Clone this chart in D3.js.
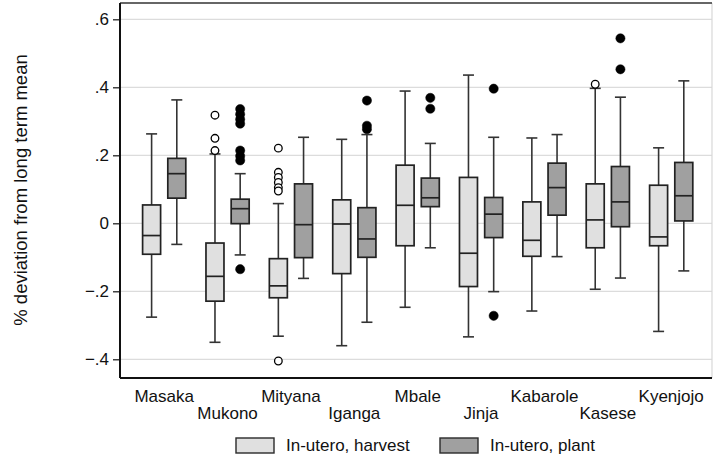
<!DOCTYPE html>
<html>
<head>
<meta charset="utf-8">
<script src="https://cdn.jsdelivr.net/npm/d3@7"></script>
<style>
  body { margin: 0; background: #fff; }
  text { font-family: "Liberation Sans", Arial, sans-serif; fill: #111; }
</style>
</head>
<body>
<svg id="chart"></svg>
<script>
var width = 714,
    height = 461;

// districts, in plot order
var districts = ["Masaka", "Mukono", "Mityana", "Iganga", "Mbale", "Jinja", "Kabarole", "Kasese", "Kyenjojo"];

// [lower whisker, q1, median, q3, upper whisker]
var harvestStats = [
  [-0.276, -0.091, -0.036, 0.054, 0.263],
  [-0.350, -0.229, -0.156, -0.058, 0.204],
  [-0.332, -0.219, -0.184, -0.104, 0.058],
  [-0.360, -0.148, -0.002, 0.069, 0.247],
  [-0.247, -0.066, 0.053, 0.171, 0.389],
  [-0.334, -0.186, -0.088, 0.135, 0.436],
  [-0.258, -0.097, -0.050, 0.063, 0.251],
  [-0.194, -0.072, 0.010, 0.116, 0.397],
  [-0.318, -0.066, -0.040, 0.112, 0.222]
];
var plantStats = [
  [-0.062, 0.074, 0.146, 0.191, 0.363],
  [-0.093, -0.001, 0.043, 0.071, 0.146],
  [-0.162, -0.101, -0.004, 0.116, 0.253],
  [-0.291, -0.100, -0.046, 0.046, 0.261],
  [-0.072, 0.049, 0.075, 0.133, 0.235],
  [-0.201, -0.042, 0.027, 0.076, 0.253],
  [-0.098, 0.024, 0.105, 0.177, 0.261],
  [-0.161, -0.010, 0.063, 0.167, 0.371],
  [-0.140, 0.007, 0.081, 0.179, 0.419]
];

// outside values
var harvestOutliers = [
  [],
  [0.318, 0.250, 0.214],
  [0.221, 0.150, 0.135, 0.120, 0.105, 0.095, -0.405],
  [],
  [],
  [],
  [],
  [0.409],
  []
];
var plantOutliers = [
  [],
  [0.336, 0.321, 0.306, 0.293, 0.214, 0.198, 0.185, -0.135],
  [],
  [0.361, 0.287, 0.277],
  [0.369, 0.337],
  [0.396, -0.272],
  [],
  [0.544, 0.453],
  []
];

var yTicks = [-0.4, -0.2, 0, 0.2, 0.4, 0.6];
var seriesNames = ["In-utero, harvest", "In-utero, plant"];

var margin = {left: 120, right: 2, top: 3, bottom: 83};
var plotLeft = margin.left, plotRight = width - margin.right,
    plotTop = margin.top, plotBottom = height - margin.bottom;

var svg = d3.select('#chart')
  .attr('width', width)
  .attr('height', height);

var y = d3.scaleLinear()
  .domain([-0.455, 0.648])
  .range([plotBottom, plotTop]);

var x = d3.scalePoint()
  .domain(districts)
  .range([164.2, 671.2]);

var offset = 12.6, boxW = 18, capW = 11;

// gridlines
svg.append('g')
  .selectAll('line')
  .data(yTicks)
  .join('line')
  .attr('x1', plotLeft).attr('x2', plotRight)
  .attr('y1', d => y(d)).attr('y2', d => y(d))
  .style('stroke', '#dcdcdc')
  .style('stroke-width', 1.2);

// frame
svg.append('line').attr('x1', plotRight).attr('x2', plotRight).attr('y1', plotTop).attr('y2', plotBottom)
  .style('stroke', '#d8d8d8').style('stroke-width', 1.2);
svg.append('line').attr('x1', plotLeft).attr('x2', plotRight).attr('y1', plotTop).attr('y2', plotTop)
  .style('stroke', '#333').style('stroke-width', 1.5);
svg.append('line').attr('x1', plotLeft).attr('x2', plotRight).attr('y1', plotBottom).attr('y2', plotBottom)
  .style('stroke', '#111').style('stroke-width', 2);

// y axis
var fmt = function(d) {
  if (d === 0) return '0';
  return d3.format('.1f')(d).replace('0.', '.');
};
var yAxis = svg.append('g')
  .attr('transform', 'translate(' + plotLeft + ',0)')
  .call(d3.axisLeft(y).tickValues(yTicks).tickFormat(fmt).tickSize(7).tickPadding(4).tickSizeOuter(0));
yAxis.select('.domain')
  .attr('d', 'M0,' + plotTop + 'V' + plotBottom)
  .style('stroke', '#111').style('stroke-width', 2);
yAxis.selectAll('.tick line').style('stroke', '#111').style('stroke-width', 1.2);
yAxis.selectAll('.tick text')
  .style('font-size', '17px')
  .style('font-family', '"Liberation Sans", Arial, sans-serif')
  .attr('fill', '#111');

svg.append('text')
  .attr('transform', 'translate(26.5,190) rotate(-90)')
  .attr('text-anchor', 'middle')
  .style('font-size', '18.5px')
  .text('% deviation from long term mean');

// boxes
var series = [
  {stats: harvestStats, outliers: harvestOutliers, dx: -offset, fill: '#e0e0e0', hollow: true},
  {stats: plantStats, outliers: plantOutliers, dx: offset, fill: '#a0a0a0', hollow: false}
];

series.forEach(function(s) {
  var g = svg.append('g');
  var items = districts.map(function(d, i) {
    return {cx: x(d) + s.dx, st: s.stats[i], out: s.outliers[i]};
  });

  // whiskers
  g.selectAll('line.whisk')
    .data(items)
    .join('line')
    .attr('class', 'whisk')
    .attr('x1', d => d.cx).attr('x2', d => d.cx)
    .attr('y1', d => y(d.st[0])).attr('y2', d => y(d.st[4]))
    .style('stroke', '#333').style('stroke-width', 1.6);

  ['lo', 'hi'].forEach(function(k) {
    g.selectAll('line.cap-' + k)
      .data(items)
      .join('line')
      .attr('class', 'cap-' + k)
      .attr('x1', d => d.cx - capW / 2).attr('x2', d => d.cx + capW / 2)
      .attr('y1', d => y(k === 'lo' ? d.st[0] : d.st[4]))
      .attr('y2', d => y(k === 'lo' ? d.st[0] : d.st[4]))
      .style('stroke', '#333').style('stroke-width', 1.6);
  });

  g.selectAll('rect')
    .data(items)
    .join('rect')
    .attr('x', d => d.cx - boxW / 2)
    .attr('width', boxW)
    .attr('y', d => y(d.st[3]))
    .attr('height', d => y(d.st[1]) - y(d.st[3]))
    .style('fill', s.fill)
    .style('stroke', '#222').style('stroke-width', 1.7);

  g.selectAll('line.med')
    .data(items)
    .join('line')
    .attr('class', 'med')
    .attr('x1', d => d.cx - boxW / 2).attr('x2', d => d.cx + boxW / 2)
    .attr('y1', d => y(d.st[2])).attr('y2', d => y(d.st[2]))
    .style('stroke', '#222').style('stroke-width', 1.7);

  var pts = [];
  items.forEach(function(d) {
    d.out.forEach(function(v) { pts.push({cx: d.cx, v: v}); });
  });
  g.selectAll('circle')
    .data(pts)
    .join('circle')
    .attr('cx', d => d.cx)
    .attr('cy', d => y(d.v))
    .attr('r', s.hollow ? 3.8 : 4.6)
    .style('fill', s.hollow ? '#fff' : '#000')
    .style('stroke', '#000')
    .style('stroke-width', s.hollow ? 1.3 : 0.5);
});

// category labels, staggered
svg.append('g')
  .selectAll('text')
  .data(districts)
  .join('text')
  .attr('x', d => x(d))
  .attr('y', (d, i) => i % 2 === 0 ? 402 : 418.7)
  .attr('text-anchor', 'middle')
  .style('font-size', '17px')
  .text(d => d);

// legend
var legendX = [236, 440];
var legendFill = ['#e0e0e0', '#a0a0a0'];
var legend = svg.append('g')
  .selectAll('g')
  .data(seriesNames)
  .join('g')
  .attr('transform', (d, i) => 'translate(' + legendX[i] + ',438)');
legend.append('rect')
  .attr('width', 38).attr('height', 15)
  .style('fill', (d, i) => legendFill[i])
  .style('stroke', '#2a2a2a').style('stroke-width', 1.4);
legend.append('text')
  .attr('x', 50).attr('y', 13.3)
  .style('font-size', '17px')
  .text(d => d);
</script>
</body>
</html>
